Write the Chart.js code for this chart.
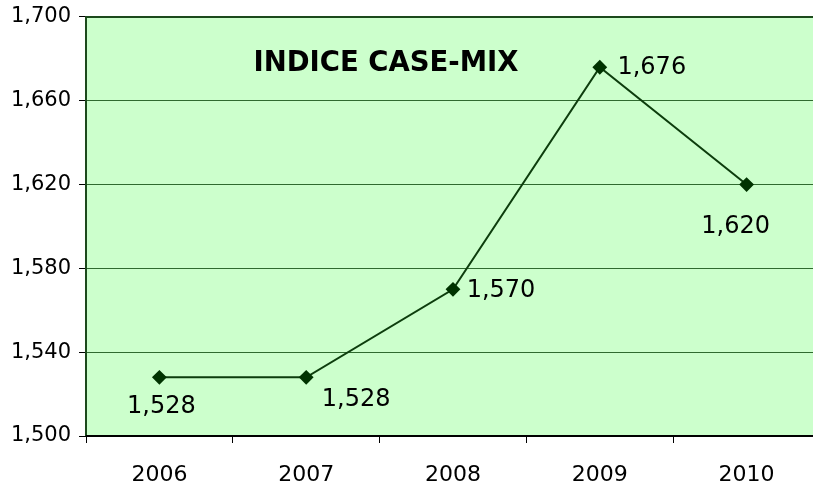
<!DOCTYPE html>
<html>
<head>
<meta charset="utf-8">
<script src="https://cdn.jsdelivr.net/npm/chart.js@4/dist/chart.umd.min.js"></script>
<style>
  html, body { margin: 0; padding: 0; background: #fff; overflow: hidden; }
  #wrap { width: 813px; height: 491px; }
</style>
</head>
<body>
<div id="wrap"><canvas id="cmChart"></canvas></div>
<script>
var years = ['2006', '2007', '2008', '2009', '2010'];
var caseMix = [1.528, 1.528, 1.570, 1.676, 1.620];
var yTicks = [1.500, 1.540, 1.580, 1.620, 1.660, 1.700];

// where each value label sits relative to its point (px)
var labelOffsets = [[2, 29], [50, 22], [48, 1], [52, 1], [-11, 42]];

function fmt(v) {
  return v.toFixed(3).replace('.', ',');
}

// the original plot runs a few px past the right edge of the picture
var stretchRight = {
  id: 'stretchRight',
  afterLayout: function (chart) {
    var extra = 820 - chart.chartArea.right;
    var x = chart.scales.x;
    chart.chartArea.right += extra;
    chart.chartArea.width += extra;
    x.right += extra;
    x.width += extra;
    x.configure();
  }
};

var plotDecor = {
  id: 'plotDecor',
  beforeDraw: function (chart) {
    var a = chart.chartArea, ctx = chart.ctx;
    ctx.save();
    ctx.fillStyle = '#ccffcc';
    ctx.fillRect(a.left, a.top, a.right - a.left, a.bottom - a.top);
    ctx.restore();
  },
  afterDatasetsDraw: function (chart) {
    var a = chart.chartArea, ctx = chart.ctx;
    ctx.save();
    ctx.strokeStyle = '#1c4a1c';
    ctx.lineWidth = 2;
    ctx.beginPath();
    ctx.moveTo(a.right, a.top);
    ctx.lineTo(a.left, a.top);
    ctx.lineTo(a.left, a.bottom);
    ctx.stroke();
    ctx.strokeStyle = '#000';
    ctx.beginPath();
    ctx.moveTo(a.left, a.bottom);
    ctx.lineTo(a.right, a.bottom);
    ctx.stroke();

    // title inside the plot
    ctx.fillStyle = '#000';
    ctx.font = 'bold 27.5px "DejaVu Sans"';
    ctx.textAlign = 'center';
    ctx.textBaseline = 'middle';
    ctx.fillText('INDICE CASE-MIX', a.left + 300, a.top + 47);

    // value labels
    ctx.font = '24px "DejaVu Sans"';
    var meta = chart.getDatasetMeta(0);
    meta.data.forEach(function (pt, i) {
      var off = labelOffsets[i];
      ctx.fillText(fmt(caseMix[i]), pt.x + off[0], pt.y + off[1]);
    });
    ctx.restore();
  }
};

new Chart(document.getElementById('cmChart'), {
  type: 'line',
  data: {
    labels: years,
    datasets: [{
      data: caseMix,
      borderColor: '#0d3d0d',
      borderWidth: 2,
      pointStyle: 'rectRot',
      pointRadius: 6,
      pointBackgroundColor: '#003300',
      pointBorderColor: '#003300',
      tension: 0
    }]
  },
  options: {
    responsive: true,
    maintainAspectRatio: false,
    animation: false,
    layout: { padding: 0 },
    plugins: {
      legend: { display: false },
      tooltip: { enabled: false }
    },
    scales: {
      x: {
        offset: true,
        grid: {
          offset: true,
          drawOnChartArea: false,
          drawTicks: true,
          tickLength: 7,
          color: '#000'
        },
        border: { display: false },
        ticks: {
          color: '#000',
          padding: 19,
          maxRotation: 0,
          font: { family: 'DejaVu Sans', size: 22 }
        },
        afterFit: function (s) { s.height = 55; }
      },
      y: {
        min: 1.5,
        max: 1.7,
        afterBuildTicks: function (s) {
          s.ticks = yTicks.map(function (v) { return { value: v }; });
        },
        grid: {
          color: '#2f6a2f',
          lineWidth: 1,
          tickLength: 7,
          tickColor: '#000'
        },
        border: { display: false },
        ticks: {
          color: '#000',
          padding: 8,
          font: { family: 'DejaVu Sans', size: 21, lineHeight: 0.85 },
          callback: function (v) { return fmt(v); }
        },
        afterFit: function (s) { s.width = 86; }
      }
    }
  },
  plugins: [stretchRight, plotDecor]
});
</script>
</body>
</html>
